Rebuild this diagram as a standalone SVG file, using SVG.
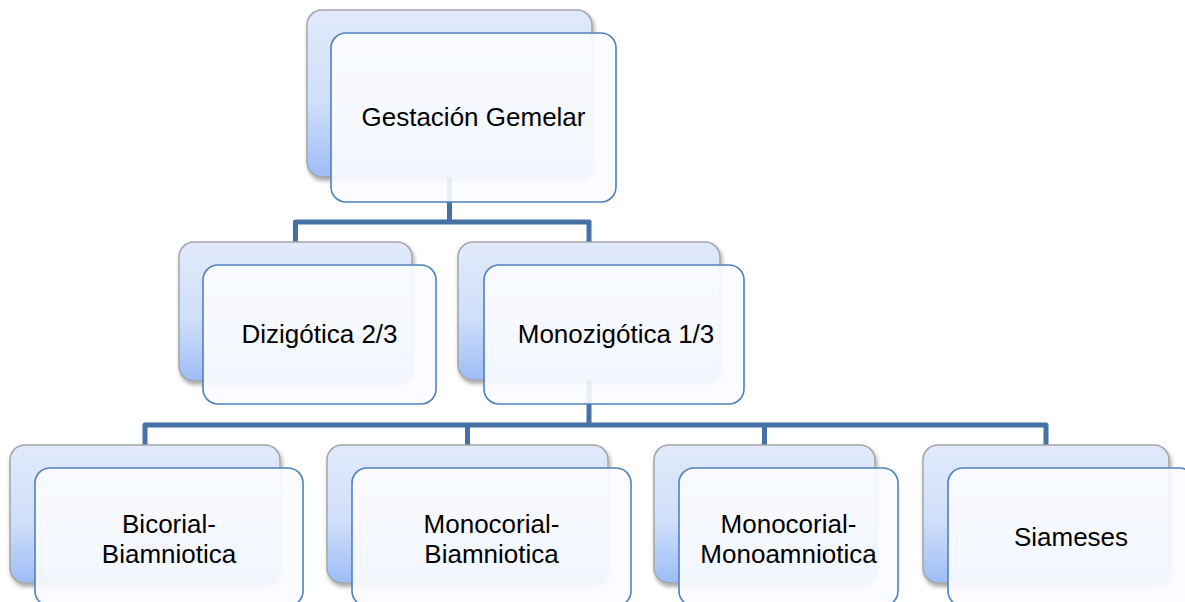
<svg xmlns="http://www.w3.org/2000/svg" width="1185" height="602" viewBox="0 0 1185 602">
  <defs>
    <linearGradient id="backGrad" x1="0" y1="0" x2="0" y2="1">
      <stop offset="0" stop-color="#e1eafb"/>
      <stop offset="0.55" stop-color="#d0dffa"/>
      <stop offset="1" stop-color="#9dbdf6"/>
    </linearGradient>
    <filter id="shadow" x="-10%" y="-10%" width="125%" height="130%">
      <feDropShadow dx="1.5" dy="3" stdDeviation="2.2" flood-color="#000" flood-opacity="0.35"/>
    </filter>
    <style>
      .back { fill: url(#backGrad); stroke: #a5a5a5; stroke-width: 1.5; filter: url(#shadow); }
      .front { fill: #fbfcff; fill-opacity: 0.9; stroke: #4f81bd; stroke-width: 1.6; }
      .label { font-family: "Liberation Sans", Arial, sans-serif; font-size: 26px; fill: #000; text-anchor: middle; }
      .conn { fill: none; stroke: #4571a7; stroke-width: 5; stroke-linejoin: round; }
    </style>
  </defs>
  <rect width="1185" height="602" fill="#ffffff"/>

  <g id="connectors">
    <path class="conn" d="M449.5,177 V222"/>
    <path class="conn" d="M295.5,242 V222 H589 V242"/>
    <path class="conn" d="M589,380 V425"/>
    <path class="conn" d="M145,445 V425 H1046 V445"/>
    <path class="conn" d="M467.5,425 V445"/>
    <path class="conn" d="M764.5,425 V445"/>
  </g>

  <g id="node-gestacion">
    <rect class="back" x="307" y="10" width="285" height="167" rx="15"/>
    <rect class="front" x="331" y="33" width="285" height="169" rx="15"/>
    <text class="label" x="473.5" y="126">Gestación Gemelar</text>
  </g>

  <g id="node-dizigotica">
    <rect class="back" x="179" y="242" width="233" height="139" rx="15"/>
    <rect class="front" x="203" y="265" width="233" height="139" rx="15"/>
    <text class="label" x="319.5" y="343">Dizigótica 2/3</text>
  </g>

  <g id="node-monozigotica">
    <rect class="back" x="458" y="242" width="262" height="138" rx="15"/>
    <rect class="front" x="484" y="265" width="260" height="139" rx="15"/>
    <text class="label" x="616" y="343">Monozigótica 1/3</text>
  </g>

  <g id="node-bicorial">
    <rect class="back" x="10" y="445" width="270" height="138" rx="15"/>
    <rect class="front" x="35" y="468" width="268" height="138" rx="15"/>
    <text class="label" x="169" y="533">Bicorial-</text>
    <text class="label" x="169" y="563">Biamniotica</text>
  </g>

  <g id="node-monocorial-biamniotica">
    <rect class="back" x="327" y="445" width="281" height="138" rx="15"/>
    <rect class="front" x="352" y="468" width="279" height="138" rx="15"/>
    <text class="label" x="491.5" y="533">Monocorial-</text>
    <text class="label" x="491.5" y="563">Biamniotica</text>
  </g>

  <g id="node-monocorial-monoamniotica">
    <rect class="back" x="654" y="445" width="221" height="138" rx="15"/>
    <rect class="front" x="679" y="468" width="219" height="138" rx="15"/>
    <text class="label" x="788.5" y="533">Monocorial-</text>
    <text class="label" x="788.5" y="563">Monoamniotica</text>
  </g>

  <g id="node-siameses">
    <rect class="back" x="923" y="445" width="246" height="138" rx="15"/>
    <rect class="front" x="948" y="468" width="246" height="138" rx="15"/>
    <text class="label" x="1071" y="546">Siameses</text>
  </g>
</svg>
